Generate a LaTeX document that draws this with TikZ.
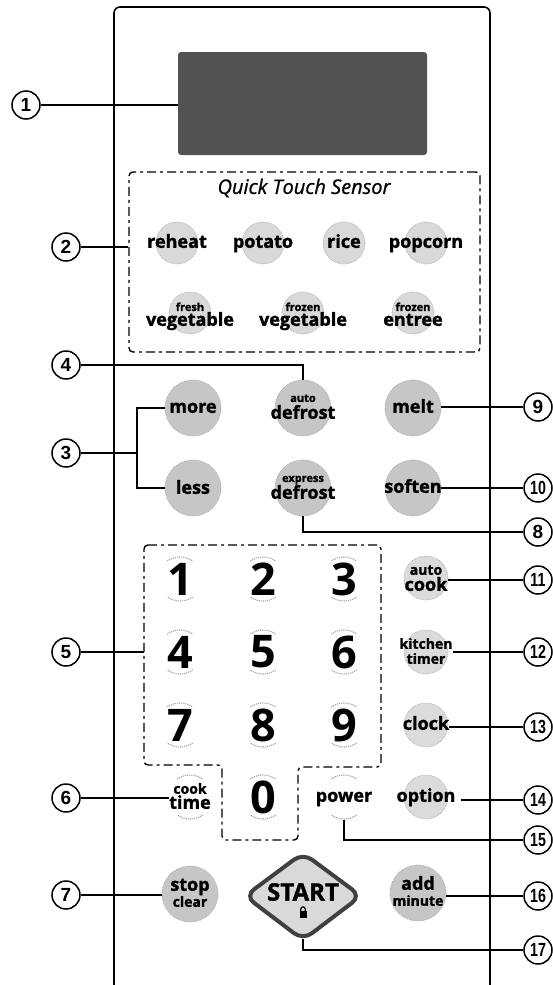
\documentclass[tikz,border=0pt]{standalone}
\usepackage{fontspec}
\setmainfont{Open Sans}[BoldFeatures={FakeBold=1.6},ItalicFeatures={FakeBold=1.0}]
\newfontfamily\digitfont{Open Sans}
\newfontfamily\calloutfont{Liberation Sans}
\usetikzlibrary{calc}
\begin{document}
\begin{tikzpicture}[x=1pt,y=-1pt,
  callout/.style={circle,draw,line width=1.5pt,minimum size=28pt,inner sep=0pt,font=\calloutfont\bfseries\fontsize{19}{19}\selectfont},
  lead/.style={line width=1.4pt},
  sbtn/.style={circle,minimum size=42pt,inner sep=0pt,fill=gray!30,draw=gray!60,densely dotted,line width=0.8pt},
  bbtn/.style={circle,minimum size=56pt,inner sep=0pt,fill=gray!45,draw=gray!65,densely dotted,line width=0.8pt},
  rbtn/.style={circle,minimum size=44pt,inner sep=0pt,fill=gray!28,draw=gray!60,densely dotted,line width=0.8pt},
  lab/.style={inner sep=0pt,text height=13pt,text depth=3.4pt,font=\bfseries\fontsize{18}{18}\selectfont},
  labm/.style={inner sep=0pt,text height=10pt,text depth=2.5pt,font=\bfseries\fontsize{14}{14}\selectfont},
  labs/.style={inner sep=0pt,text height=8pt,text depth=2.1pt,font=\bfseries\fontsize{11}{11}\selectfont},
  digit/.style={inner sep=0pt,font=\digitfont\bfseries\fontsize{45}{45}\selectfont},
  keyarc/.style={gray!75,densely dotted,line width=1.1pt},
  dashbox/.style={line width=1.4pt,dash pattern=on 9pt off 4pt on 3pt off 4pt,rounded corners=4pt},
  keyarcs/.pic={\draw[keyarc] (235:22) arc[start angle=235,end angle=305,radius=22];
                \draw[keyarc] (55:22) arc[start angle=55,end angle=125,radius=22];}
]
\useasboundingbox (0,0) rectangle (553,985);

% panel
\draw[line width=1.6pt,rounded corners=6pt] (114,985) -- (114,7) -- (490,7) -- (490,985);

% display
\node[fill=black!68,rounded corners=3pt,minimum width=249pt,minimum height=103pt,inner sep=0pt] (disp) at (302.5,103.5) {};

% quick touch sensor box
\node[draw,dashbox,minimum width=351pt,minimum height=180pt,inner sep=0pt] (qbox) at (304.5,262) {};
\node[inner sep=0pt,font=\itshape\fontsize{20}{20}\selectfont] (qtitle) at (304,188) {Quick Touch Sensor};

\node[sbtn] (reheat) at (177,243) {};
\node[lab] (reheatl) at (177,243) {reheat};
\node[sbtn] (potato) at (263,243) {};
\node[lab] (potatol) at (263,243) {potato};
\node[sbtn] (rice) at (344,243) {};
\node[lab] (ricel) at (344,243) {rice};
\node[sbtn] (popcorn) at (426,243) {};
\node[lab] (popcornl) at (426,243) {popcorn};

\node[sbtn] (fveg) at (190,313) {};
\node[labs] (fvega) at (190,308) {fresh};
\node[lab] (fvegb) at (190,321) {vegetable};
\node[sbtn] (zveg) at (303,313) {};
\node[labs] (zvega) at (303,308) {frozen};
\node[lab] (zvegb) at (303,321) {vegetable};
\node[sbtn] (zent) at (413,313) {};
\node[labs] (zenta) at (413,308) {frozen};
\node[lab] (zentb) at (413,321) {entree};

% big buttons
\node[bbtn] (more) at (193,408) {};
\node[lab] (morel) at (193,408) {more};
\node[bbtn] (less) at (193,488) {};
\node[lab] (lessl) at (193,489) {less};
\node[bbtn] (adef) at (303,408) {};
\node[labs] (adefa) at (303,399) {auto};
\node[lab] (adefb) at (303,414) {defrost};
\node[bbtn] (edef) at (303,488) {};
\node[labs] (edefa) at (303,479) {express};
\node[lab] (edefb) at (303,494) {defrost};
\node[bbtn] (melt) at (413,408) {};
\node[lab] (meltl) at (413,408) {melt};
\node[bbtn] (soften) at (413,488) {};
\node[lab] (softenl) at (413,488) {soften};

% number pad
\draw[dashbox] (144,545) -- (381,545) -- (381,767) -- (298,767) -- (298,840) -- (222,840) -- (222,765) -- (144,765) -- cycle;
\coordinate (nbw) at (144,652);
\foreach \d/\x/\y in {1/180/579,2/263/579,3/344/579,4/180/652,5/263/652,6/344/652,7/180/725,8/263/725,9/344/725,0/263/797}{
  \node[digit] (k\d) at (\x,\y) {\d};
  \pic at (\x,\y) {keyarcs};
}

% right column buttons
\node[rbtn] (acook) at (426,578) {};
\node[labm] (acooka) at (426,571) {auto};
\node[lab] (acookb) at (426,586) {cook};
\node[rbtn] (ktimer) at (426,652) {};
\node[labm] (ktimera) at (426,645) {kitchen};
\node[labm] (ktimerb) at (426,660) {timer};
\node[rbtn] (clock) at (426,725) {};
\node[lab] (clockl) at (426,725) {clock};
\node[rbtn] (option) at (426,797) {};
\node[lab] (optionl) at (426,797) {option};

% cook time and power
\pic at (190,797) {keyarcs};
\node[labm] (ctimea) at (190,790) {cook};
\node[lab] (ctimeb) at (190,804) {time};
\pic at (344,797) {keyarcs};
\node[lab] (power) at (344,797) {power};
\coordinate (powb) at (344,820);

% bottom row
\node[bbtn] (stop) at (190,894) {};
\node[lab] (stopa) at (190,886) {stop};
\node[labm] (stopb) at (190,903) {clear};
\node[bbtn] (addm) at (418,893) {};
\node[lab] (addma) at (418,885) {add};
\node[labm] (addmb) at (418,902) {minute};

\draw[fill=gray!30,draw=black!75,line width=4pt,rounded corners=11pt] (245,896) -- (303,853) -- (361,896) -- (303,940) -- cycle;
\node[inner sep=0pt,font=\bfseries\fontsize{24}{24}\selectfont] (start) at (303,892) {START};
\fill (299.5,911) rectangle (306.5,918);
\draw[line width=1.2pt] (300.8,911) -- (300.8,909) arc[start angle=180,end angle=360,radius=2.2] -- (305.2,911);
\coordinate (stbot) at (303,939);

% callouts
\node[callout] (c1) at (26,105) {1};
\node[callout] (c2) at (66,247) {2};
\node[callout] (c4) at (66,365) {4};
\node[callout] (c3) at (66,453) {3};
\node[callout] (c5) at (66,652) {5};
\node[callout] (c6) at (66,798) {6};
\node[callout] (c7) at (66,895) {7};
\node[callout] (c9) at (538,407) {9};
\node[callout] (c10) at (538,488) {\scalebox{0.75}[1]{10}};
\node[callout] (c8) at (538,532) {8};
\node[callout] (c11) at (538,580) {\scalebox{0.75}[1]{11}};
\node[callout] (c12) at (538,652) {\scalebox{0.75}[1]{12}};
\node[callout] (c13) at (538,727) {\scalebox{0.75}[1]{13}};
\node[callout] (c14) at (538,800) {\scalebox{0.75}[1]{14}};
\node[callout] (c15) at (538,840) {\scalebox{0.75}[1]{15}};
\node[callout] (c16) at (538,896) {\scalebox{0.75}[1]{16}};
\node[callout] (c17) at (538,950) {\scalebox{0.75}[1]{17}};

\coordinate (brk) at (137,453);
\coordinate (oend) at ([xshift=5pt]optionl.east);

\draw[lead] (c1) -- (c1 -| disp.west);
\draw[lead] (c2) -- (c2 -| qbox.west);
\draw[lead] (c4) -| (adef.north);
\draw[lead] (c3) -- (brk);
\draw[lead] (more.west) -| (brk) |- (less.west);
\draw[lead] (c5) -- (nbw);
\draw[lead] (c6) -- (c6 -| ctimeb.west);
\draw[lead] (c7) -- (c7 -| stop.west);
\draw[lead] (c9) -- (c9 -| melt.east);
\draw[lead] (c10) -- (c10 -| soften.east);
\draw[lead] (c8) -| (edef.south);
\draw[lead] (c11) -- (c11 -| acookb.east);
\draw[lead] (c12) -- (c12 -| ktimera.east);
\draw[lead] (c13) -- (c13 -| clockl.east);
\draw[lead] (c14) -- (c14 -| oend);
\draw[lead] (c15) -| (powb);
\draw[lead] (c16) -- (c16 -| addm.east);
\draw[lead] (c17) -| (stbot);
\end{tikzpicture}
\end{document}
